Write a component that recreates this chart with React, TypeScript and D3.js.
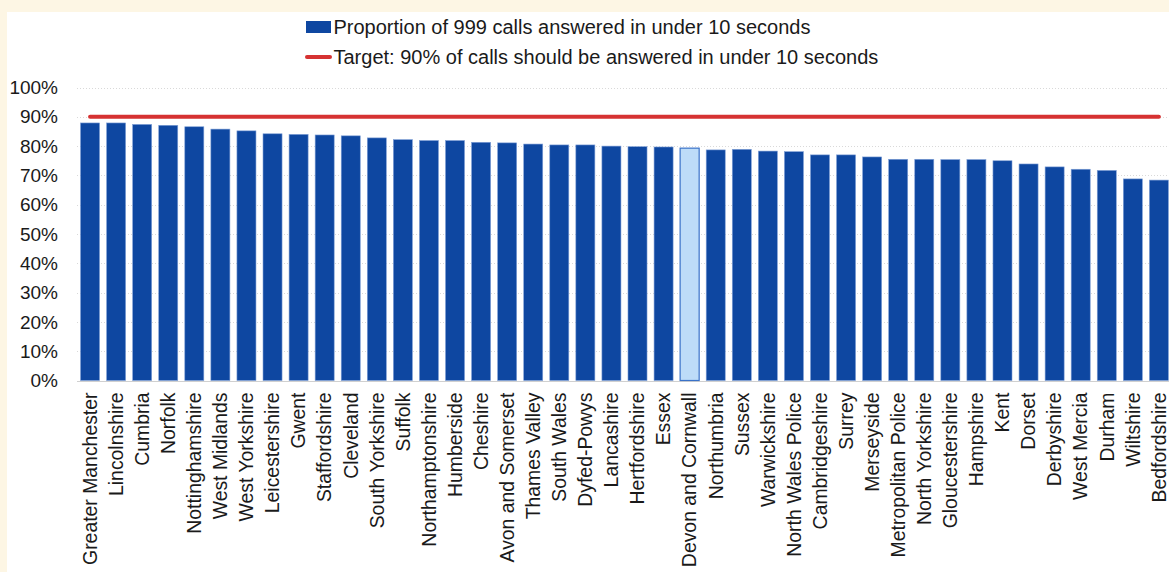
import React from "react";
import * as d3 from "d3";

const forces: string[] = [
  "Greater Manchester", "Lincolnshire", "Cumbria", "Norfolk", "Nottinghamshire",
  "West Midlands", "West Yorkshire", "Leicestershire", "Gwent", "Staffordshire",
  "Cleveland", "South Yorkshire", "Suffolk", "Northamptonshire", "Humberside",
  "Cheshire", "Avon and Somerset", "Thames Valley", "South Wales", "Dyfed-Powys",
  "Lancashire", "Hertfordshire", "Essex", "Devon and Cornwall", "Northumbria",
  "Sussex", "Warwickshire", "North Wales Police", "Cambridgeshire", "Surrey",
  "Merseyside", "Metropolitan Police", "North Yorkshire", "Gloucestershire", "Hampshire",
  "Kent", "Dorset", "Derbyshire", "West Mercia", "Durham", "Wiltshire", "Bedfordshire",
];

const answeredShare: number[] = [
  0.879, 0.879, 0.874, 0.871, 0.866, 0.858, 0.852, 0.842, 0.840, 0.838,
  0.835, 0.828, 0.822, 0.819, 0.819, 0.813, 0.811, 0.807, 0.804, 0.804,
  0.800, 0.798, 0.797, 0.793, 0.787, 0.789, 0.783, 0.781, 0.770, 0.770,
  0.763, 0.755, 0.755, 0.754, 0.754, 0.750, 0.739, 0.729, 0.721, 0.717,
  0.688, 0.684,
];

const highlighted = "Devon and Cornwall";
const targetValue = 0.9;
const yTicks: number[] = [0, 0.1, 0.2, 0.3, 0.4, 0.5, 0.6, 0.7, 0.8, 0.9, 1.0];

const legendBars = "Proportion of 999 calls answered in under 10 seconds";
const legendTarget = "Target: 90% of calls should be answered in under 10 seconds";

const W = 1169;
const H = 572;
const FONT = "'Liberation Sans', Arial, sans-serif";

export default function App() {
  const x0 = 77;
  const step = 26.07;
  const x = d3
    .scaleBand<string>()
    .domain(forces)
    .range([x0, x0 + step * forces.length])
    .paddingInner(0.27)
    .paddingOuter(0.135);
  const y = d3.scaleLinear().domain([0, 1]).range([380.5, 87.5]);
  const fmt = d3.format(".0%");

  const first = x(forces[0])! + x.bandwidth() / 2;
  const last = x(forces[forces.length - 1])! + x.bandwidth() / 2;

  return (
    <div style={{ position: "fixed", left: 0, top: 0, width: W, height: H }}>
      <svg width={W} height={H} style={{ display: "block" }} fontFamily={FONT}>
        <rect x={0} y={0} width={W} height={H} fill="#fdf6e4" />
        <rect x={7} y={12} width={W - 7} height={H - 12} fill="#ffffff" />

        {/* gridlines */}
        {yTicks.map((t) => (
          <line
            key={"g" + t}
            x1={x0}
            x2={W}
            y1={Math.round(y(t)) + 0.5}
            y2={Math.round(y(t)) + 0.5}
            stroke={t === 0 ? "#d0d0d0" : "#d9d9d9"}
            strokeWidth={1}
            strokeDasharray={t === 0 ? undefined : "1 2"}
          />
        ))}

        {/* y tick labels */}
        {yTicks.map((t) => (
          <text
            key={"t" + t}
            x={58}
            y={y(t)}
            dy="0.35em"
            textAnchor="end"
            fontSize={19}
            fill="#1a1a1a"
          >
            {fmt(t)}
          </text>
        ))}

        {/* bars */}
        {forces.map((f, i) => {
          const hl = f === highlighted;
          return (
            <rect
              key={f}
              x={x(f)!}
              y={y(answeredShare[i])}
              width={x.bandwidth()}
              height={y(0) - y(answeredShare[i])}
              fill={hl ? "#bddcf8" : "#0e47a1"}
              stroke={hl ? "#3a72c8" : "#7f9fd6"}
              strokeWidth={hl ? 1.2 : 0.6}
            />
          );
        })}

        {/* target line */}
        <line
          x1={first}
          x2={last}
          y1={y(targetValue)}
          y2={y(targetValue)}
          stroke="#d63232"
          strokeWidth={4}
          strokeLinecap="round"
        />

        {/* x labels */}
        {forces.map((f) => (
          <text
            key={"l" + f}
            transform={`translate(${x(f)! + x.bandwidth() / 2},392.5) rotate(-90)`}
            dy="0.35em"
            textAnchor="end"
            fontSize={19.4}
            fill="#1a1a1a"
          >
            {f}
          </text>
        ))}

        {/* legend */}
        <rect x={306} y={21} width={25} height={12} fill="#0e47a1" />
        <text x={333.5} y={27} dy="0.35em" fontSize={20} fill="#1a1a1a">
          {legendBars}
        </text>
        <line x1={307} x2={330} y1={57} y2={57} stroke="#d63232" strokeWidth={4} strokeLinecap="round" />
        <text x={333.5} y={56.5} dy="0.35em" fontSize={20} fill="#1a1a1a">
          {legendTarget}
        </text>
      </svg>
    </div>
  );
}
